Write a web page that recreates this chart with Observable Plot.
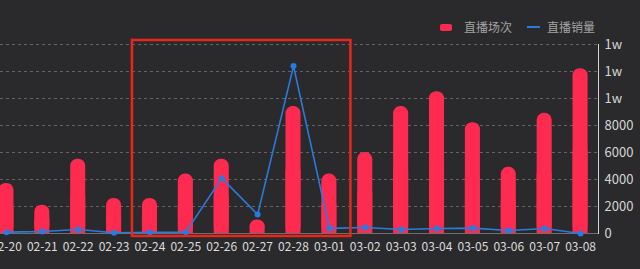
<!DOCTYPE html>
<html><head><meta charset="utf-8">
<script src="https://cdn.jsdelivr.net/npm/d3@7"></script>
<script src="https://cdn.jsdelivr.net/npm/@observablehq/plot@0.6"></script>
<style>
html,body{margin:0;padding:0;background:#2a2a2c;overflow:hidden;width:640px;height:269px;}
#legend{height:36px;position:relative;font-family:"Noto Sans CJK SC","Noto Sans",sans-serif;font-size:12px;color:#a3a3a3;}
#legend .sw{position:absolute;}
#legend .tx{position:absolute;top:19px;line-height:16px;white-space:nowrap;}
#chart{margin-left:-12px;}
</style></head><body>
<div id="legend"></div>
<div id="chart"></div>
<script>
const dates = ["02-20","02-21","02-22","02-23","02-24","02-25","02-26","02-27","02-28","03-01","03-02","03-03","03-04","03-05","03-06","03-07","03-08"];
const sessions = [3700,2100,5500,2600,2600,4400,5500,1000,9400,4400,6000,9400,10500,8200,4900,8900,12200];
const sales = [100,150,300,50,80,100,4100,1400,12400,380,440,300,370,400,220,370,0];
const yTicks = [0,2000,4000,6000,8000,10000,12000,14000];
const seriesNames = ["直播场次","直播销量"];
const seriesColors = ["#ff2a4f","#2a7be0"];
const highlight = [{from:"02-24", to:"03-01", bottom:-220, top:14300}];

// legend
const lg = document.getElementById("legend");
lg.innerHTML =
  `<div class="sw" style="left:440px;top:24px;width:12px;height:7px;border-radius:2px;background:${seriesColors[0]}"></div>` +
  `<div class="tx" style="left:464px">${seriesNames[0]}</div>` +
  `<div class="sw" style="left:527px;top:26px;width:13px;height:2px;background:${seriesColors[1]}"></div>` +
  `<div class="tx" style="left:547px">${seriesNames[1]}</div>`;

const data = dates.map((d, i) => ({date: d, sessions: sessions[i], sales: sales[i]}));

const plot = Plot.plot({
  width: 652, height: 233,
  marginLeft: 0, marginRight: 42, marginTop: 8, marginBottom: 36,
  style: {background: "transparent", color: "#d6d6d6", fontFamily: "'Noto Sans CJK SC','Noto Sans',sans-serif", fontSize: "13px", overflow: "visible"},
  x: {domain: dates, paddingInner: 0.58, paddingOuter: 0.29, round: false, label: null, axis: null},
  y: {domain: [0, 14000], ticks: yTicks, label: null, axis: "right", tickSize: 0, tickPadding: 6, line: true,
      tickFormat: d => d >= 10000 ? Math.round(d / 10000) + "w" : String(d)},
  marks: [
    Plot.axisX({tickSize: 0, tickPadding: 9, fontSize: 12, label: null, fill: "#dcdcdc"}),
    Plot.ruleY(yTicks.slice(1), {stroke: "#8a8a8a", strokeOpacity: 0.6, strokeDasharray: "3,3"}),
    Plot.barY(data, {x: "date", y: "sessions", fill: seriesColors[0], rx: 7}),
    Plot.barY(data, {x: "date", y: d => d.sessions / 2, fill: seriesColors[0]}),
    Plot.ruleY([0], {stroke: "#6e6e6e"}),
    Plot.line(data, {x: "date", y: "sales", stroke: seriesColors[1], strokeWidth: 1.6}),
    Plot.dot(data, {x: "date", y: "sales", fill: seriesColors[1], r: 3}),
    Plot.rect(highlight, {x1: "from", x2: "to", y1: "bottom", y2: "top", fill: "none", stroke: "#e8261c", strokeWidth: 2.5, insetLeft: -10, insetRight: -14})
  ]
});
document.getElementById("chart").appendChild(plot);
</script>
</body></html>
